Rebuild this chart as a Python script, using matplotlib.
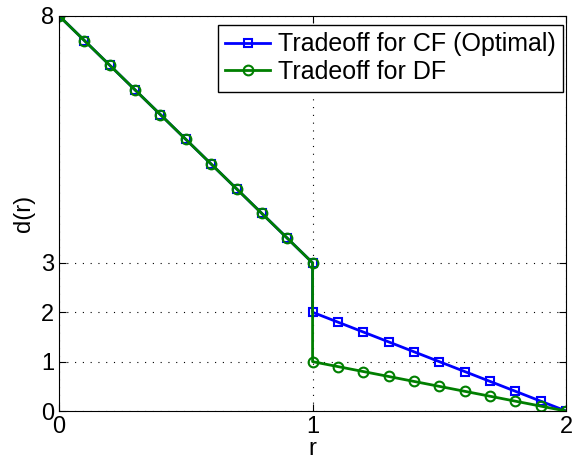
import numpy as np
import matplotlib.pyplot as plt

plt.rcParams['font.family'] = ['Liberation Sans', 'DejaVu Sans']

# data
r = [0, 0.1, 0.2, 0.3, 0.4, 0.5, 0.6, 0.7, 0.8, 0.9, 1.0,
     1.0, 1.1, 1.2, 1.3, 1.4, 1.5, 1.6, 1.7, 1.8, 1.9, 2.0]
d_cf = [8, 7.5, 7, 6.5, 6, 5.5, 5, 4.5, 4, 3.5, 3,
        2, 1.8, 1.6, 1.4, 1.2, 1.0, 0.8, 0.6, 0.4, 0.2, 0]
d_df = [8, 7.5, 7, 6.5, 6, 5.5, 5, 4.5, 4, 3.5, 3,
        1, 0.9, 0.8, 0.7, 0.6, 0.5, 0.4, 0.3, 0.2, 0.1, 0]
xticks = [0, 1, 2]
yticks = [0, 1, 2, 3, 8]

fig = plt.figure(figsize=(5.73, 4.65), dpi=100)
ax = fig.add_axes([0.103, 0.116, 0.885, 0.85])

ax.plot(r, d_cf, '-s', color='#0000ff', lw=2, ms=6, mfc='none', mew=1.5,
        label='Tradeoff for CF (Optimal)')
ax.plot(r, d_df, '-o', color='#007f00', lw=2, ms=7, mfc='none', mew=1.5,
        label='Tradeoff for DF')

ax.set_xlim(0, 2)
ax.set_ylim(0, 8)
ax.set_xticks(xticks)
ax.set_yticks(yticks)
ax.tick_params(direction='in', top=True, right=True, labelsize=17, length=5)
ax.grid(True, linestyle=(0, (1, 6)), color='black', lw=0.8)
ax.set_xlabel('r', fontsize=17, labelpad=0)
ax.set_ylabel('d(r)', fontsize=17, labelpad=4)

leg = ax.legend(loc='upper right', bbox_to_anchor=(0.994, 0.977), borderaxespad=0,
                fontsize=18, fancybox=False, framealpha=1, numpoints=1,
                edgecolor='black', handlelength=1.8, handletextpad=0.3,
                borderpad=0.3, labelspacing=0.15)
leg.get_frame().set_linewidth(1.0)

fig.savefig('out.png', dpi=100)
